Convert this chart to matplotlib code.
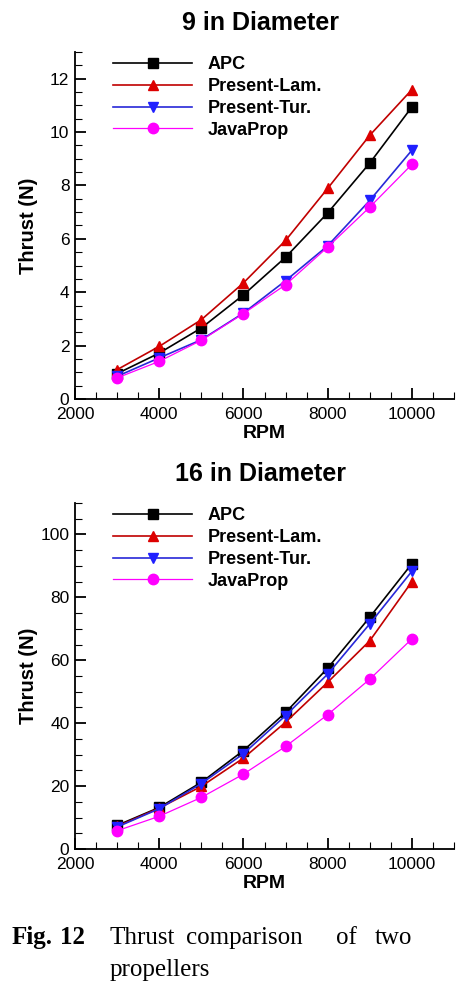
import numpy as np
import matplotlib
matplotlib.use('Agg')
import matplotlib.pyplot as plt
from matplotlib.ticker import MultipleLocator

plt.rcParams['font.family'] = ['Liberation Sans', 'DejaVu Sans']

#----- data -----
rpm = [3000, 4000, 5000, 6000, 7000, 8000, 9000, 10000]

# 9 in diameter
apc_9 = [0.95, 1.72, 2.66, 3.90, 5.31, 6.97, 8.84, 10.94]
lam_9 = [1.10, 1.97, 2.97, 4.35, 5.94, 7.89, 9.88, 11.59]
tur_9 = [0.85, 1.54, 2.22, 3.22, 4.43, 5.74, 7.44, 9.32]
java_9 = [0.79, 1.41, 2.20, 3.20, 4.28, 5.69, 7.19, 8.79]

# 16 in diameter
apc_16 = [7.5, 13.2, 21.2, 31.3, 43.4, 57.5, 73.7, 90.7]
lam_16 = [7.2, 13.0, 19.9, 28.9, 40.3, 53.0, 66.2, 85.0]
tur_16 = [7.0, 12.8, 20.8, 30.3, 42.4, 55.6, 71.6, 88.3]
java_16 = [5.8, 10.4, 16.4, 23.8, 32.6, 42.7, 54.0, 66.8]

labels = ['APC', 'Present-Lam.', 'Present-Tur.', 'JavaProp']
titles = ['9 in Diameter', '16 in Diameter']

W, H = 474, 991
fig = plt.figure(figsize=(W / 100, H / 100), dpi=100)


def box(left, top, right, bottom):
    return [left / W, 1 - bottom / H, (right - left) / W, (bottom - top) / H]


ax1 = fig.add_axes(box(75, 52, 454, 399))
ax2 = fig.add_axes(box(75, 503, 454, 849))

styles = [
    dict(color='black', marker='s', mfc='black', mec='black', lw=1.2),
    dict(color='#c00000', marker='^', mfc='#dd0000', mec='#dd0000', lw=1.2),
    dict(color='#2828d8', marker='v', mfc='#2020ff', mec='#2020ff', lw=1.2),
    dict(color='#ff00ff', marker='o', mfc='#ff00ff', mec='#ff00ff', lw=0.9),
]

for ax, series, title, ymax, ymaj, ymin in [
        (ax1, [apc_9, lam_9, tur_9, java_9], titles[0], 13, 2, 0.5),
        (ax2, [apc_16, lam_16, tur_16, java_16], titles[1], 110, 20, 5)]:
    for s, lab, st in zip(series, labels, styles):
        ax.plot(rpm, s, label=lab, markersize=7.5, **st)

    ax.set_xlim(2000, 11000)
    ax.set_ylim(0, ymax)
    ax.xaxis.set_major_locator(MultipleLocator(2000))
    ax.xaxis.set_minor_locator(MultipleLocator(500))
    ax.yaxis.set_major_locator(MultipleLocator(ymaj))
    ax.yaxis.set_minor_locator(MultipleLocator(ymin))
    ax.spines['top'].set_visible(False)
    ax.spines['right'].set_visible(False)
    ax.spines['left'].set_linewidth(1.3)
    ax.spines['bottom'].set_linewidth(1.3)
    ax.tick_params(which='major', direction='in', length=8, width=1.3,
                   labelsize=12.5)
    ax.tick_params(which='minor', direction='in', length=5, width=0.8)
    ax.tick_params(axis='x', which='major', pad=6)
    ax.tick_params(axis='y', which='major', pad=4)

    ax.set_xlabel('RPM', fontsize=14, fontweight='bold')
    ax.xaxis.set_label_coords(0.5, -0.074)
    ax.set_ylabel('Thrust (N)', fontsize=14.5, fontweight='bold')
    ax.yaxis.set_label_coords(-0.098, 0.5)
    ax.set_title(title, fontsize=18, fontweight='bold', pad=16, x=0.49)

    ax.legend(loc='upper left', bbox_to_anchor=(0.1, 0.988), frameon=False,
              prop={'weight': 'bold', 'size': 13},
              handlelength=4.4, handletextpad=0.85, labelspacing=0.27,
              borderpad=0, borderaxespad=0)

# caption
serif = ['Liberation Serif', 'DejaVu Serif']
y1 = 1 - 944 / H
y2 = 1 - 976 / H
fig.text(12 / W, y1, 'Fig.', family=serif, fontsize=18, fontweight='bold')
fig.text(60 / W, y1, '12', family=serif, fontsize=18, fontweight='bold')
for word, x in [('Thrust', 110), ('comparison', 186), ('of', 336), ('two', 375)]:
    fig.text(x / W, y1, word, family=serif, fontsize=18)
fig.text(110 / W, y2, 'propellers', family=serif, fontsize=18)

fig.savefig('out.png', dpi=100)
